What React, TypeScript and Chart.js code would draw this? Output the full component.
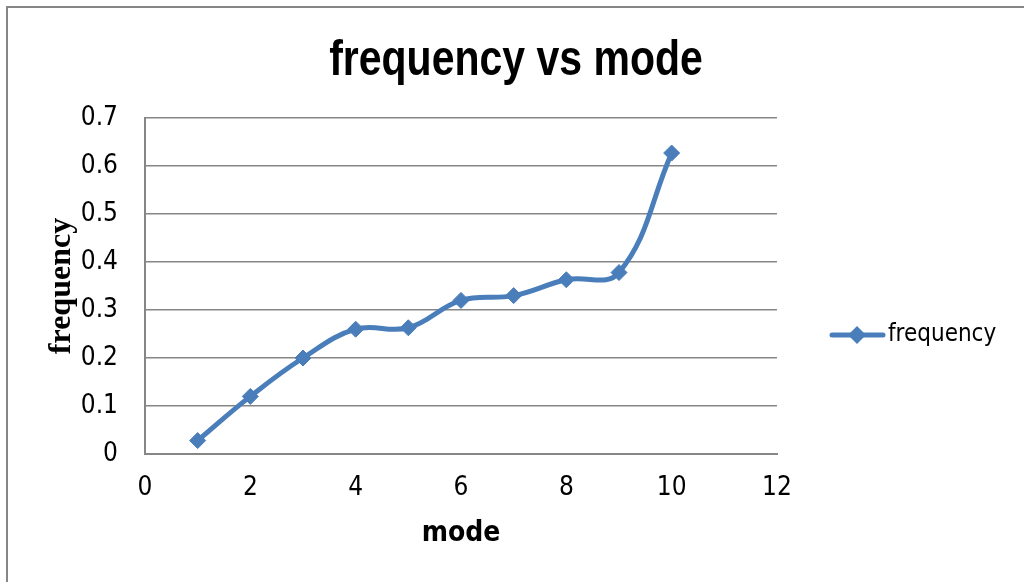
import React, { useEffect, useRef } from "react";
import { Chart, registerables } from "chart.js";

Chart.register(...registerables);

const chartTitle = "frequency vs mode";
const xAxisTitle = "mode";
const yAxisTitle = "frequency";
const seriesName = "frequency";
const modes = [1, 2, 3, 4, 5, 6, 7, 8, 9, 10];
const frequencies = [0.028, 0.12, 0.2, 0.26, 0.263, 0.32, 0.33, 0.363, 0.378, 0.627];
const xTicks = [0, 2, 4, 6, 8, 10, 12];
const yTicks = [0, 0.1, 0.2, 0.3, 0.4, 0.5, 0.6, 0.7];

const NARROW = '"Liberation Sans Narrow", "Arial Narrow", "DejaVu Sans Condensed", "Liberation Sans", sans-serif';
const BLUE = "#4a7ebb";
const GRAY = "#868686";

const decorPlugin = {
  id: "decor",
  beforeDraw(chart: any) {
    const ctx = chart.ctx;
    ctx.save();
    ctx.fillStyle = "#ffffff";
    ctx.fillRect(0, 0, chart.width, chart.height);
    ctx.strokeStyle = GRAY;
    ctx.lineWidth = 2;
    ctx.strokeRect(7, 7, 1200, 1200);
    ctx.restore();
  },
  afterDraw(chart: any) {
    const ctx = chart.ctx;
    ctx.save();
    // title (Arial-metric bold, condensed horizontally like Arial Narrow)
    ctx.fillStyle = "#000000";
    ctx.font = 'bold 50px "Liberation Sans", Arial, sans-serif';
    ctx.textAlign = "center";
    ctx.textBaseline = "alphabetic";
    ctx.translate(516, 75);
    ctx.scale(0.82, 1);
    ctx.fillText(chartTitle, 0, 0);
    ctx.restore();
    ctx.save();
    // legend
    const ds = chart.data.datasets[0];
    const ly = 335;
    ctx.strokeStyle = BLUE;
    ctx.lineWidth = 5;
    ctx.lineCap = "round";
    ctx.beginPath();
    ctx.moveTo(832, ly);
    ctx.lineTo(883, ly);
    ctx.stroke();
    ctx.fillStyle = BLUE;
    ctx.beginPath();
    ctx.moveTo(857 - 9, ly);
    ctx.lineTo(857, ly - 9);
    ctx.lineTo(857 + 9, ly);
    ctx.lineTo(857, ly + 9);
    ctx.closePath();
    ctx.fill();
    ctx.fillStyle = "#000000";
    ctx.font = `24px ${NARROW}`;
    ctx.textAlign = "left";
    ctx.textBaseline = "middle";
    ctx.fillText(ds.label, 888, ly);
    ctx.restore();
  },
};

export default function App() {
  const ref = useRef<HTMLCanvasElement | null>(null);
  useEffect(() => {
    if (!ref.current) return;
    const chart = new Chart(ref.current, {
      type: "line",
      data: {
        datasets: [
          {
            label: seriesName,
            data: modes.map((m, i) => ({ x: m, y: frequencies[i] })),
            borderColor: BLUE,
            backgroundColor: BLUE,
            borderWidth: 5,
            tension: 0.4,
            pointStyle: "rectRot",
            pointRadius: 8,
            pointBorderWidth: 1,
            pointBackgroundColor: BLUE,
            pointBorderColor: BLUE,
            fill: false,
          },
        ],
      },
      options: {
        responsive: false,
        animation: false,
        devicePixelRatio: 1,
        layout: { padding: { top: 118, right: 247, left: 0, bottom: 0 } },
        plugins: {
          legend: { display: false },
          title: { display: false },
          tooltip: { enabled: false },
        },
        scales: {
          x: {
            type: "linear",
            min: 0,
            max: 12,
            afterFit: (s: any) => { s.height = 128; },
            afterBuildTicks: (s: any) => { s.ticks = xTicks.map((v) => ({ value: v })); },
            grid: { display: false, drawTicks: false },
            border: { display: true, color: GRAY, width: 2 },
            ticks: { color: "#000", padding: 19, font: { family: NARROW, size: 26 } },
            title: {
              display: true,
              text: xAxisTitle,
              color: "#000",
              font: { family: NARROW, size: 28, weight: "bold" },
              padding: { top: 0, bottom: 31 },
            },
          },
          y: {
            type: "linear",
            min: 0,
            max: 0.7,
            afterFit: (s: any) => { s.width = 145; },
            afterBuildTicks: (s: any) => { s.ticks = yTicks.map((v) => ({ value: v })); },
            grid: { display: true, drawTicks: false, color: GRAY, lineWidth: 1.5 },
            border: { display: true, color: GRAY, width: 2 },
            ticks: {
              color: "#000",
              padding: 27,
              font: { family: NARROW, size: 26 },
              callback: (v: any) => String(Math.round(Number(v) * 10) / 10),
            },
            title: {
              display: true,
              text: yAxisTitle,
              color: "#000",
              font: { family: '"Liberation Serif", "Times New Roman", serif', size: 32, weight: "bold" },
              padding: { top: 43, bottom: 0 },
            },
          },
        },
      },
      plugins: [decorPlugin],
    });
    return () => chart.destroy();
  }, []);
  return (
    <canvas
      ref={ref}
      width={1024}
      height={582}
      style={{ position: "fixed", left: 0, top: 0, width: 1024, height: 582 }}
    />
  );
}
